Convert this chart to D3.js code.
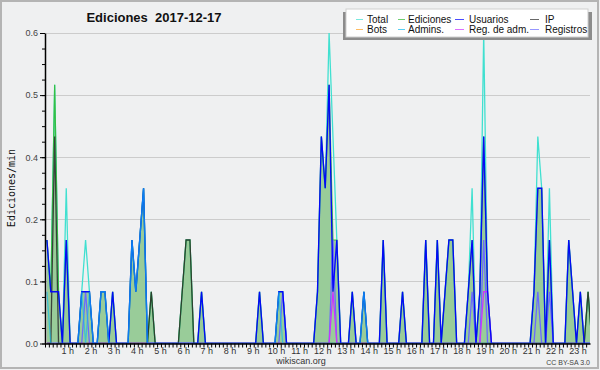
<!DOCTYPE html>
<html><head><meta charset="utf-8">
<script src="https://cdn.jsdelivr.net/npm/d3@7/dist/d3.min.js"></script>
<style>
html,body{margin:0;padding:0;background:#eff0f1;}
svg{display:block;}
</style></head>
<body>
<svg id="chart" width="600" height="370" font-family="Liberation Sans, Arial, sans-serif"></svg>
<script>
// ---- data: 10-minute bins, 0:00 .. 23:50 (6 per hour) ----
const hourLabels = d3.range(1, 24);
const yTicks = [0, 0.12, 0.24, 0.36, 0.48, 0.6];
const seriesNames = ["Total","Ediciones","Usuarios","IP","Bots","Admins.","Reg. de adm.","Registros"];

const total = [
 .2,.1,.5,.1,0,.3,  0,0,0,.1,.2,.1,  0,0,.1,.1,0,.1,  0,0,0,0,.2,.1,
 .2,.3,0,.1,0,0,  0,0,0,0,0,.1,  .2,.2,0,0,.1,0,  0,0,0,0,0,0,
 0,0,0,0,0,0,  0,.1,0,0,0,0,  .1,.1,0,0,0,0,  0,0,0,0,.1,.4,
 .3,.6,.4,.2,0,0,  0,.1,0,0,.1,0,  0,0,0,.2,0,0,  0,0,.1,0,0,0,
 0,0,.2,0,0,.2,  0,.1,.2,.2,0,0,  0,.1,.3,0,.1,.6,  .1,0,0,0,0,0,
 0,0,0,0,0,0,  .1,.4,.3,0,.3,0,  0,0,0,.2,.1,0,  .1,0,.1,0,0,0];
const ediciones = [
 .2,.1,.5,.1,0,.2,  0,0,0,.1,.1,.1,  0,0,.1,.1,0,.1,  0,0,0,0,.2,.1,
 .2,.3,0,.1,0,0,  0,0,0,0,0,.1,  .2,.2,0,0,.1,0,  0,0,0,0,0,0,
 0,0,0,0,0,0,  0,.1,0,0,0,0,  .1,.1,0,0,0,0,  0,0,0,0,.1,.4,
 .3,.5,.2,.2,0,0,  0,.1,0,0,.1,0,  0,0,0,.2,0,0,  0,0,.1,0,0,0,
 0,0,.2,0,0,.2,  0,.1,.2,.2,0,0,  0,.1,.2,0,.1,.4,  .1,0,0,0,0,0,
 0,0,0,0,0,0,  .1,.3,.3,0,.2,0,  0,0,0,.2,.1,0,  .1,0,.1,0,0,0];
const usuarios = [
 .2,.1,.1,.1,0,.2,  0,0,0,.1,.1,.1,  0,0,.1,.1,0,.1,  0,0,0,0,.2,.1,
 .2,.3,0,0,0,0,  0,0,0,0,0,0,  0,0,0,0,.1,0,  0,0,0,0,0,0,
 0,0,0,0,0,0,  0,.1,0,0,0,0,  .1,.1,0,0,0,0,  0,0,0,0,.1,.4,
 .3,.5,.1,.2,0,0,  0,.1,0,0,.1,0,  0,0,0,.2,0,0,  0,0,.1,0,0,0,
 0,0,.2,0,0,.2,  0,.1,.2,.2,0,0,  0,.1,.2,0,.1,.4,  .1,0,0,0,0,0,
 0,0,0,0,0,0,  .1,.3,.3,0,.2,0,  0,0,0,.2,.1,0,  .1,0,0,0,0,0];
const ip = [
 0,0,.4,0,0,0,  0,0,0,0,0,0,  0,0,0,0,0,0,  0,0,0,0,0,0,
 0,0,0,.1,0,0,  0,0,0,0,0,.1,  .2,.2,0,0,0,0,  0,0,0,0,0,0,
 0,0,0,0,0,0,  0,0,0,0,0,0,  0,0,0,0,0,0,  0,0,0,0,0,0,
 0,0,0,0,0,0,  0,0,0,0,0,0,  0,0,0,0,0,0,  0,0,0,0,0,0,
 0,0,0,0,0,0,  0,0,0,0,0,0,  0,0,0,0,0,0,  0,0,0,0,0,0,
 0,0,0,0,0,0,  0,0,0,0,0,0,  0,0,0,0,0,0,  0,0,.1,0,0,0];
const bots = new Array(144).fill(0);
const admins = [
 .1,0,0,0,0,0,  0,0,0,.1,0,.1,  0,0,.1,.1,0,0,  0,0,0,0,.2,.1,
 .2,.3,0,0,0,0,  0,0,0,0,0,0,  0,0,0,0,0,0,  0,0,0,0,0,0,
 0,0,0,0,0,0,  0,0,0,0,0,0,  .1,0,0,0,0,0,  0,0,0,0,0,0,
 0,0,0,0,0,0,  0,0,0,0,.1,0,  0,0,0,0,0,0,  0,0,0,0,0,0,
 0,0,0,0,0,0,  0,0,0,0,0,0,  0,0,0,0,0,0,  0,0,0,0,0,0,
 0,0,0,0,0,0,  0,0,0,0,0,0,  0,0,0,0,0,0,  0,0,0,0,0,0];
const regAdm = [
 0,0,0,0,0,0,  0,0,0,0,0,0,  0,0,0,0,0,0,  0,0,0,0,0,0,
 0,0,0,0,0,0,  0,0,0,0,0,0,  0,0,0,0,0,0,  0,0,0,0,0,0,
 0,0,0,0,0,0,  0,0,0,0,0,0,  0,0,0,0,0,0,  0,0,0,0,0,0,
 0,0,.1,0,0,0,  0,0,0,0,0,0,  0,0,0,0,0,0,  0,0,0,0,0,0,
 0,0,0,0,0,0,  0,0,0,0,0,0,  0,0,0,0,0,.1,  .1,0,0,0,0,0,
 0,0,0,0,0,0,  0,0,0,0,0,0,  0,0,0,0,0,0,  0,0,0,0,0,0];
const registros = [
 0,0,0,0,0,0,  0,0,0,0,.1,0,  0,0,0,0,0,0,  0,0,0,0,0,0,
 0,0,0,0,0,0,  0,0,0,0,0,0,  0,0,0,0,0,0,  0,0,0,0,0,0,
 0,0,0,0,0,0,  0,0,0,0,0,0,  0,.1,0,0,0,0,  0,0,0,0,0,0,
 0,0,.2,0,0,0,  0,0,0,0,0,0,  0,0,0,0,0,0,  0,0,0,0,0,0,
 0,0,0,0,0,0,  0,0,0,0,0,0,  0,0,.1,0,0,.2,  0,0,0,0,0,0,
 0,0,0,0,0,0,  0,.1,0,0,.1,0,  0,0,0,0,0,0,  0,0,0,0,0,0];

// ---- layout ----
const svg = d3.select("#chart");
const L = 45, R = 590, T = 33, B = 343.5;
const x = d3.scaleLinear().domain([0, 23.5]).range([L, R]);
const y = d3.scaleLinear().domain([0, 0.6]).range([B, T]);
const tOf = i => (i + 0.5) / 6;

svg.append("rect").attr("x",1).attr("y",1).attr("width",597).attr("height",367)
  .attr("fill","#eff0f1").attr("stroke","#b4b4b4").attr("stroke-width",2);

svg.append("defs").append("clipPath").attr("id","clip")
  .append("rect").attr("x",L).attr("y",T-5).attr("width",R-L).attr("height",B-T+5);

// grid
svg.append("g").selectAll("line").data(yTicks.slice(1)).join("line")
  .attr("x1",L).attr("x2",R).attr("y1",d=>Math.round(y(d))+0.5).attr("y2",d=>Math.round(y(d))+0.5)
  .attr("stroke","#cccccc").attr("stroke-width",1);

const plot = svg.append("g").attr("clip-path","url(#clip)");

const area = d3.area().x((d,i)=>x(tOf(i))).y0(y(0)).y1(d=>y(d));
plot.append("path").datum(ediciones).attr("d",area).attr("fill","#99cc99");

const line = d3.line().x((d,i)=>x(tOf(i))).y(d=>y(d));
const draw = [
  [total, "#40e0d0", 1.3, 1],
  [ediciones, "#33bb33", 1.2, 0.9],
  [bots, "#ffa020", 1.2, 1],
  [registros, "#6a6aff", 1.3, 1],
  [regAdm, "#cc33ff", 1.3, 1],
  [ip, "#2a2a2a", 1.3, 0.85],
  [usuarios, "#0000ff", 1.4, 0.95],
  [admins, "#11bbee", 1.3, 0.65]
];
draw.forEach(([data, c, w, o]) => {
  plot.append("path").datum(data).attr("d",line).attr("fill","none")
    .attr("stroke",c).attr("stroke-width",w).attr("stroke-opacity",o)
    .attr("stroke-linejoin","miter");
});

// y axis
const yMinor = d3.range(0, 0.6001, 0.03);
svg.append("g").attr("transform",`translate(${L},0)`)
  .call(d3.axisLeft(y).tickValues(yMinor).tickSize(3).tickFormat("").tickSizeOuter(0))
  .call(g=>g.select(".domain").remove())
  .selectAll("line").attr("stroke","#000");
const ya = svg.append("g").attr("transform",`translate(${L},0)`)
  .call(d3.axisLeft(y).tickValues(yTicks).tickSize(5).tickSizeOuter(0).tickPadding(2).tickFormat(d3.format(".1f")));
ya.attr("font-family",null);
ya.select(".domain").attr("stroke","#000").attr("stroke-width",1.5);
ya.selectAll("text").attr("font-size",9).attr("fill","#444");

// x axis
const xMinor = d3.range(0, 141).map(i => i / 6);
const xa = svg.append("g").attr("transform",`translate(0,${B})`)
  .call(d3.axisBottom(x).tickValues(xMinor).tickSize(4).tickFormat("").tickSizeOuter(0));
xa.select(".domain").attr("stroke","#000").attr("stroke-width",1.5);
xa.selectAll("line").attr("stroke","#000");
const xl = svg.append("g").attr("transform",`translate(-1,${B})`)
  .call(d3.axisBottom(x).tickValues(hourLabels).tickSize(0).tickPadding(4).tickFormat(d=>d+" h"));
xl.attr("font-family",null);
xl.select(".domain").remove();
xl.selectAll("text").attr("font-size",9).attr("fill","#333");

// title
svg.append("text").attr("x",154).attr("y",22).attr("text-anchor","middle")
  .attr("font-size",13).attr("font-weight","bold").attr("fill","#111")
  .style("white-space","pre")
  .text("Ediciones  2017-12-17");

// y label
svg.append("text").attr("transform","translate(15,188) rotate(-90)").attr("text-anchor","middle")
  .attr("font-family","DejaVu Sans Mono, monospace").attr("font-size",10).attr("fill","#111")
  .text("Ediciones/min");

// footer
svg.append("text").attr("x",301).attr("y",364).attr("text-anchor","middle")
  .attr("font-size",9).attr("fill","#333").text("wikiscan.org");
svg.append("text").attr("x",590).attr("y",365).attr("text-anchor","end")
  .attr("font-size",7).attr("fill","#444").text("CC BY-SA 3.0");

// legend
const legColors = ["#40e0d0","#33bb33","#0000ff","#2a2a2a","#ffa020","#11bbee","#cc33ff","#6a6aff"];
const lg = svg.append("g");
lg.append("rect").attr("x",343).attr("y",12).attr("width",249).attr("height",28).attr("fill","#8c8c8c");
lg.append("rect").attr("x",346).attr("y",9).attr("width",242).attr("height",28).attr("fill","#fff")
  .attr("stroke","#cfcfcf").attr("stroke-width",1);
const swX1 = [356, 398, 455, 530];
const swX2 = [363, 405, 464, 539];
const txX = [367, 408, 469, 545];
const rowY = [19, 29];
seriesNames.forEach((n, k) => {
  const c = k % 4, cy = rowY[Math.floor(k / 4)];
  lg.append("line").attr("x1",swX1[c]).attr("x2",swX2[c]).attr("y1",cy+0.5).attr("y2",cy+0.5)
    .attr("stroke",legColors[k]).attr("stroke-width",1).attr("stroke-opacity",0.7);
  lg.append("text").attr("x",txX[c]).attr("y",cy+3.5).attr("font-size",10).attr("fill","#111").text(n);
});
</script>
</body></html>
